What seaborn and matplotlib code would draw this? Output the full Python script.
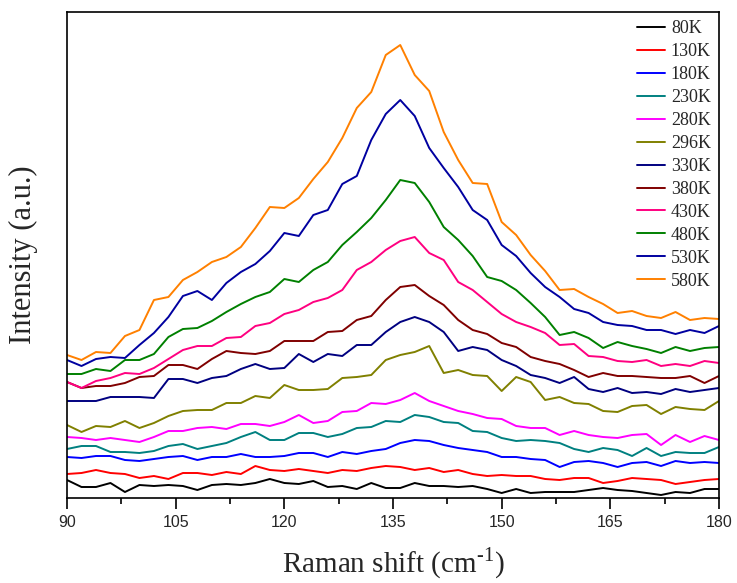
import numpy as np
import pandas as pd
import seaborn as sns
import matplotlib.pyplot as plt

# Raman spectra at different temperatures (a.u.)
shift = np.arange(90, 181, 2)
temps = ["80K", "130K", "180K", "230K", "280K", "296K",
         "330K", "380K", "430K", "480K", "530K", "580K"]
colors = ["#000000", "#FF0000", "#0000FF", "#008080", "#FF00FF", "#808000",
          "#000080", "#800000", "#FF0080", "#008000", "#0000A0", "#FF8000"]

i_80 = [18, 11, 11, 15, 6, 13, 12, 13, 12, 8, 13, 14, 13, 15, 19, 15, 14, 17, 11, 12, 9, 15, 10,
        10, 15, 12, 12, 11, 12, 9, 5, 9, 5, 6, 6, 6, 8, 10, 8, 7, 5, 3, 6, 5, 9, 9]
i_130 = [24, 25, 28, 25, 24, 20, 22, 19, 25, 25, 23, 26, 24, 32, 28, 27, 29, 27, 25, 28, 27, 30, 32,
         31, 28, 30, 26, 28, 24, 22, 23, 22, 22, 19, 18, 20, 20, 15, 17, 20, 19, 18, 14, 16, 18, 19]
i_180 = [41, 40, 42, 42, 38, 37, 39, 41, 42, 38, 41, 41, 44, 41, 41, 42, 45, 45, 41, 46, 44, 47, 49,
         55, 58, 57, 53, 50, 48, 46, 41, 41, 39, 38, 31, 36, 37, 35, 31, 35, 36, 32, 37, 35, 36, 35]
i_230 = [49, 52, 52, 46, 46, 45, 47, 52, 54, 49, 52, 55, 61, 66, 58, 58, 65, 65, 61, 64, 70, 71, 77,
         76, 83, 81, 76, 75, 67, 66, 60, 57, 58, 57, 55, 49, 46, 50, 48, 42, 50, 42, 46, 45, 45, 51]
i_280 = [61, 60, 58, 60, 58, 56, 61, 67, 67, 70, 71, 69, 74, 74, 72, 76, 83, 75, 77, 86, 87, 95, 94,
         98, 105, 97, 92, 87, 84, 80, 79, 72, 70, 70, 63, 67, 63, 61, 60, 63, 64, 53, 63, 56, 62, 58]
i_296 = [73, 66, 72, 71, 77, 70, 75, 82, 87, 88, 88, 95, 95, 102, 100, 113, 108, 108, 109, 120, 121,
         123, 138, 143, 146, 152, 125, 128, 123, 122, 107, 121, 116, 98, 101, 95, 94, 87, 86, 92, 93,
         84, 91, 89, 88, 97]
i_330 = [97, 97, 97, 101, 101, 101, 100, 119, 119, 115, 120, 122, 129, 134, 129, 130, 144, 136, 144,
         142, 153, 153, 166, 176, 181, 176, 166, 147, 151, 148, 138, 132, 123, 120, 115, 121, 109, 106,
         110, 105, 106, 104, 109, 106, 108, 110]
i_380 = [116, 110, 112, 112, 115, 121, 122, 133, 133, 129, 139, 147, 145, 144, 147, 157, 157, 157, 166,
         167, 178, 182, 198, 211, 213, 202, 193, 178, 168, 164, 155, 151, 141, 137, 134, 128, 121, 125,
         122, 122, 121, 120, 120, 122, 115, 122]
i_430 = [116, 110, 117, 120, 125, 124, 130, 139, 148, 152, 152, 160, 161, 172, 175, 184, 188, 196, 200,
         208, 228, 236, 248, 257, 261, 245, 238, 216, 208, 196, 184, 176, 171, 165, 153, 154, 142, 141,
         137, 136, 138, 132, 134, 132, 137, 135]
i_480 = [124, 124, 129, 127, 138, 138, 144, 161, 169, 170, 177, 186, 194, 201, 206, 219, 216, 228, 236,
         253, 266, 280, 298, 318, 315, 296, 271, 258, 242, 221, 217, 208, 195, 181, 163, 166, 160, 150,
         156, 152, 149, 145, 151, 147, 150, 151]
i_530 = [138, 132, 139, 141, 140, 153, 165, 181, 202, 207, 198, 215, 226, 234, 247, 265, 262, 283, 288,
         314, 322, 358, 384, 398, 382, 350, 330, 311, 288, 278, 253, 242, 225, 211, 201, 189, 185, 176,
         173, 172, 168, 168, 164, 168, 165, 172]
i_580 = [143, 138, 146, 145, 162, 168, 198, 201, 218, 226, 236, 241, 251, 270, 291, 290, 300, 319, 336,
         360, 390, 406, 443, 453, 423, 407, 366, 338, 315, 314, 276, 263, 243, 227, 208, 209, 201, 194,
         185, 187, 182, 180, 186, 178, 180, 179]

series = [i_80, i_130, i_180, i_230, i_280, i_296, i_330, i_380, i_430, i_480, i_530, i_580]
df = pd.concat([pd.DataFrame({"shift": shift, "intensity": s, "temp": t})
                for t, s in zip(temps, series)], ignore_index=True)

sns.set_theme(style="ticks")
plt.rcParams["font.family"] = ["Liberation Serif", "DejaVu Serif"]
plt.rcParams["mathtext.fontset"] = "custom"
plt.rcParams["mathtext.rm"] = "Liberation Serif"

fig = plt.figure(figsize=(7.37, 5.83), dpi=100)
ax = fig.add_axes([67 / 737, 85 / 583, 652 / 737, 486 / 583])

sns.lineplot(data=df, x="shift", y="intensity", hue="temp", hue_order=temps,
             palette=dict(zip(temps, colors)), linewidth=1.4, legend=False, ax=ax)

ax.set_xlim(90, 180)
ax.set_ylim(0, 486)
ax.set_xticks(np.arange(90, 181, 15))
ax.set_xticks(np.arange(97.5, 180, 15), minor=True)
ax.set_yticks([])
ax.tick_params(axis="x", which="major", direction="out", length=8, width=1.2,
               color="black", pad=4)
ax.tick_params(axis="x", which="minor", direction="out", length=4, width=1.2, color="black")
for lab in ax.get_xticklabels():
    lab.set_family("Liberation Sans")
    lab.set_fontsize(11.5)
for sp in ax.spines.values():
    sp.set_visible(True)
    sp.set_color("black")
    sp.set_linewidth(1.2)

ax.set_xlabel("Raman shift (cm$^{\\text{-1}}$)", fontsize=21, labelpad=11)
ax.set_ylabel("Intensity (a.u.)", fontsize=22, labelpad=21)

ax.legend(ax.lines, temps, loc="upper right", frameon=False, fontsize=13,
          handlelength=1.6, handletextpad=0.3, labelspacing=0.33,
          borderaxespad=0.3, borderpad=0.15)

fig.savefig("out.png", dpi=100)
